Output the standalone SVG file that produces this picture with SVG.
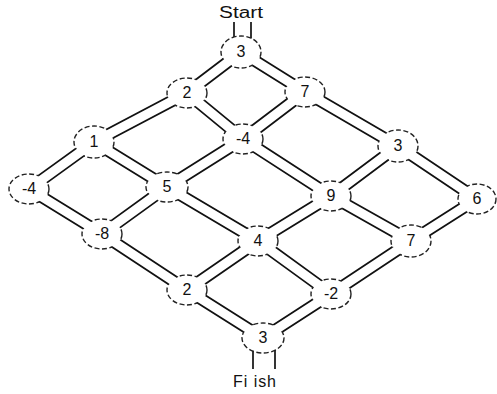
<svg xmlns="http://www.w3.org/2000/svg" width="497" height="394" viewBox="0 0 497 394">
<style>
.co{stroke:#111;stroke-width:12.5;stroke-linecap:butt;fill:none}
.ci{stroke:#fff;stroke-width:9;stroke-linecap:butt;fill:none}
.nd{fill:#fff;stroke:#222;stroke-width:1.4;stroke-dasharray:5 2.5}
.lb{font-family:"Liberation Sans",Arial,sans-serif;font-size:16px;fill:#111;text-anchor:middle}
.st{stroke:#111;stroke-width:1.7}
.tt{font-family:"Liberation Sans",Arial,sans-serif;font-size:16px;fill:#111}
</style>
<rect width="497" height="394" fill="#fff"/>
<g id="connectors">
<g id="outer">
<polyline class="co" points="241,52 187,93 94,142 29,189"/>
<polyline class="co" points="305,92 243,139 167,187 102,234"/>
<polyline class="co" points="398,146 331,196 258,241 187,290"/>
<polyline class="co" points="477,199 411,241 331,294 263,338"/>
<polyline class="co" points="241,52 305,92 398,146 477,199"/>
<polyline class="co" points="187,93 243,139 331,196 411,241"/>
<polyline class="co" points="94,142 167,187 258,241 331,294"/>
<polyline class="co" points="29,189 102,234 187,290 263,338"/>
</g>
<line class="st" x1="234" y1="22" x2="234" y2="42"/>
<line class="st" x1="251" y1="22" x2="251" y2="42"/>
<line class="st" x1="253" y1="345" x2="253" y2="369"/>
<line class="st" x1="275" y1="345" x2="275" y2="369"/>
</g>
<g id="nodes">
<g id="n00"><ellipse class="nd" cx="241" cy="52" rx="20" ry="16"/></g>
<g id="n10"><ellipse class="nd" cx="187" cy="93" rx="20" ry="15"/></g>
<g id="n01"><ellipse class="nd" cx="305" cy="92" rx="20" ry="15"/></g>
<g id="n20"><ellipse class="nd" cx="94" cy="142" rx="20" ry="16"/></g>
<g id="n11"><ellipse class="nd" cx="243" cy="139" rx="20" ry="15"/></g>
<g id="n02"><ellipse class="nd" cx="398" cy="146" rx="20" ry="16"/></g>
<g id="n30"><ellipse class="nd" cx="29" cy="189" rx="20" ry="15"/></g>
<g id="n21"><ellipse class="nd" cx="167" cy="187" rx="21" ry="15"/></g>
<g id="n12"><ellipse class="nd" cx="331" cy="196" rx="20" ry="15"/></g>
<g id="n03"><ellipse class="nd" cx="477" cy="199" rx="19" ry="15"/></g>
<g id="n31"><ellipse class="nd" cx="102" cy="234" rx="20" ry="15"/></g>
<g id="n22"><ellipse class="nd" cx="258" cy="241" rx="20" ry="15"/></g>
<g id="n13"><ellipse class="nd" cx="411" cy="241" rx="20" ry="16"/></g>
<g id="n32"><ellipse class="nd" cx="187" cy="290" rx="20" ry="15"/></g>
<g id="n23"><ellipse class="nd" cx="331" cy="294" rx="20" ry="15"/></g>
<g id="n33"><ellipse class="nd" cx="263" cy="338" rx="21" ry="15"/></g>
</g>
<g id="inner">
<polyline class="ci" points="241,52 187,93 94,142 29,189"/>
<polyline class="ci" points="305,92 243,139 167,187 102,234"/>
<polyline class="ci" points="398,146 331,196 258,241 187,290"/>
<polyline class="ci" points="477,199 411,241 331,294 263,338"/>
<polyline class="ci" points="241,52 305,92 398,146 477,199"/>
<polyline class="ci" points="187,93 243,139 331,196 411,241"/>
<polyline class="ci" points="94,142 167,187 258,241 331,294"/>
<polyline class="ci" points="29,189 102,234 187,290 263,338"/>
</g>
<g id="labels">
<text class="lb" x="241" y="57">3</text>
<text class="lb" x="187" y="98">2</text>
<text class="lb" x="305" y="97">7</text>
<text class="lb" x="94" y="147">1</text>
<text class="lb" x="243" y="144">-4</text>
<text class="lb" x="398" y="151">3</text>
<text class="lb" x="29" y="194">-4</text>
<text class="lb" x="167" y="192">5</text>
<text class="lb" x="331" y="201">9</text>
<text class="lb" x="477" y="204">6</text>
<text class="lb" x="102" y="239">-8</text>
<text class="lb" x="258" y="246">4</text>
<text class="lb" x="411" y="246">7</text>
<text class="lb" x="187" y="295">2</text>
<text class="lb" x="331" y="299">-2</text>
<text class="lb" x="263" y="343">3</text>
<text class="tt" x="219" y="18" textLength="44" lengthAdjust="spacingAndGlyphs">Start</text>
<text class="tt" x="233" y="387" textLength="43" lengthAdjust="spacing">Fi ish</text>
</g>
</svg>
